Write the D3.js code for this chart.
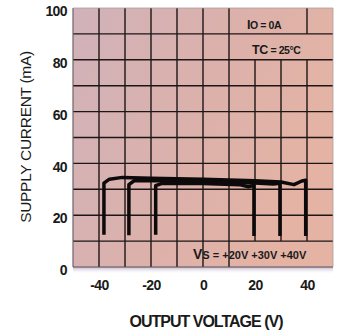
<!DOCTYPE html>
<html>
<head>
<meta charset="utf-8">
<script src="https://cdn.jsdelivr.net/npm/d3@7"></script>
<style>
  html, body { margin: 0; padding: 0; background: #ffffff; }
  svg { display: block; font-family: "Liberation Sans", Arial, Helvetica, sans-serif; }
</style>
</head>
<body>
<svg id="chart" width="338" height="332"></svg>
<script>
// Supply current vs. output voltage, IO = 0A, TC = 25°C
const xTicks = [-40, -20, 0, 20, 40];
const yTicks = [0, 20, 40, 60, 80, 100];
const xGrid = [-40, -30, -20, -10, 0, 10, 20, 30, 40];
const yGrid = [10, 20, 30, 40, 50, 60, 70, 80, 90];

// Supply-voltage curves: output voltage (V) and supply current (mA)
const vs40V = [-38.1, -38.1, -36, -31, -20, 0, 20, 30, 35, 38, 39.5, 39.5];
const vs40I = [12.5, 32.4, 33.9, 34.6, 34.3, 33.9, 33.3, 32.8, 31.8, 33.2, 33.5, 12.0];
const vs30V = [-28.5, -28.5, -26.5, -20, 0, 20, 27, 29.6, 29.6];
const vs30I = [12.3, 31.8, 33.3, 33.4, 33.0, 32.4, 32.0, 32.3, 12.0];
const vs20V = [-18.2, -18.2, -16, -10, 0, 14, 17.5, 19.6, 19.6];
const vs20I = [12.5, 31.4, 32.2, 32.3, 32.2, 31.8, 31.0, 31.5, 12.0];

const svg = d3.select("#chart");
const x = d3.scaleLinear().domain([-50, 50]).range([73, 333]);
const y = d3.scaleLinear().domain([0, 100]).range([267, 8]);

const defs = svg.append("defs");
const bg = defs.append("linearGradient").attr("id", "bg")
  .attr("x1", "0%").attr("y1", "0%").attr("x2", "100%").attr("y2", "40%");
bg.append("stop").attr("offset", "0%").attr("stop-color", "#d0b2ba");
bg.append("stop").attr("offset", "55%").attr("stop-color", "#dcb1ab");
bg.append("stop").attr("offset", "100%").attr("stop-color", "#e4b3a4");
const sh = defs.append("linearGradient").attr("id", "shadow")
  .attr("x1", "0").attr("y1", "0").attr("x2", "0").attr("y2", "1");
sh.append("stop").attr("offset", "0%").attr("stop-color", "#b9a9c0").attr("stop-opacity", 0.9);
sh.append("stop").attr("offset", "100%").attr("stop-color", "#ffffff").attr("stop-opacity", 0);

const [x0, x1] = x.range();
const [yb, yt] = y.range();

// plot background and drop shadow under it
svg.append("rect").attr("x", x0).attr("y", yb).attr("width", x1 - x0).attr("height", 7)
  .attr("fill", "url(#shadow)");
svg.append("rect").attr("x", x0).attr("y", yt).attr("width", x1 - x0).attr("height", yb - yt)
  .attr("fill", "url(#bg)");

// grid: vertical lines leave room for the annotation labels
function vSegments(v) {
  if (v === 20 || v === 30) return [[10, 80]];
  if (v === 40) return [[10, 80], [90, 100]];
  return [[0, 100]];
}
const grid = svg.append("g").attr("stroke", "#1c1616").attr("stroke-width", 1.4);
xGrid.forEach(v => {
  vSegments(v).forEach(([a, b]) => {
    grid.append("line").attr("x1", x(v)).attr("x2", x(v)).attr("y1", y(a)).attr("y2", y(b));
  });
});
yGrid.forEach(v => {
  grid.append("line").attr("x1", x0).attr("x2", x1).attr("y1", y(v)).attr("y2", y(v));
});

// frame
svg.append("line").attr("x1", x0).attr("x2", x0).attr("y1", yt).attr("y2", yb)
  .attr("stroke", "#6e6468").attr("stroke-width", 1.2);
svg.append("line").attr("x1", x0).attr("x2", x1).attr("y1", yb).attr("y2", yb)
  .attr("stroke", "#5a5058").attr("stroke-width", 1.2);
svg.append("line").attr("x1", x0).attr("x2", x1).attr("y1", yt).attr("y2", yt)
  .attr("stroke", "#a89ca0").attr("stroke-width", 0.8);
svg.append("line").attr("x1", x1).attr("x2", x1).attr("y1", yt).attr("y2", yb)
  .attr("stroke", "#b09c98").attr("stroke-width", 0.8);

// curves
const line = d3.line().x(d => x(d[0])).y(d => y(d[1]));
[[vs40V, vs40I], [vs30V, vs30I], [vs20V, vs20I]].forEach(([vv, ii]) => {
  const pts = vv.map((v, i) => [v, ii[i]]);
  svg.append("path").attr("d", line(pts))
    .attr("fill", "none").attr("stroke", "#0c0a0a").attr("stroke-width", 3.5)
    .attr("stroke-linejoin", "round").attr("stroke-linecap", "butt");
});

// axes
const yAxis = svg.append("g").attr("transform", `translate(${x0 - 6},0)`)
  .call(d3.axisLeft(y).tickValues(yTicks).tickSize(0).tickPadding(0));
yAxis.select(".domain").remove();
yAxis.selectAll("text").attr("dy", "0.55em").attr("y", 0)
  .attr("font-size", 14).attr("font-weight", "bold").attr("fill", "#1a1a1a")
  .attr("font-family", "'Liberation Sans', Arial, sans-serif").attr("letter-spacing", -0.6);

const xAxis = svg.append("g").attr("transform", `translate(0,${yb})`)
  .call(d3.axisBottom(x).tickValues(xTicks).tickSize(0).tickPadding(0).tickFormat(d3.format("d")));
xAxis.select(".domain").remove();
xAxis.selectAll("text").attr("y", 23).attr("dy", 0)
  .attr("font-size", 14).attr("font-weight", "bold").attr("fill", "#1a1a1a")
  .attr("font-family", "'Liberation Sans', Arial, sans-serif").attr("letter-spacing", -0.6)
  .text(d => d < 0 ? "-" + Math.abs(d) : d);

// axis titles
svg.append("text").attr("x", 206).attr("y", 327).attr("text-anchor", "middle")
  .attr("font-size", 16).attr("font-weight", "bold").attr("letter-spacing", -1).attr("fill", "#1a1a1a")
  .text("OUTPUT VOLTAGE (V)");
svg.append("text").attr("transform", "translate(31,137) rotate(-90)").attr("text-anchor", "middle")
  .attr("font-size", 15.5).attr("letter-spacing", -0.3).attr("fill", "#1a1a1a")
  .text("SUPPLY CURRENT (mA)");

// annotations
function label(px, py, big, small, bigSize, smallSize, spacing) {
  const t = svg.append("text").attr("x", px).attr("y", py).attr("fill", "#1a1a1a")
    .attr("font-weight", "bold").attr("letter-spacing", spacing);
  t.append("tspan").attr("font-size", bigSize).text(big);
  t.append("tspan").attr("font-size", smallSize).text(small);
}
label(247, 29, "I", "O = 0A", 12.5, 10.5, -0.4);
label(252, 54, "TC", " = 25°C", 12.5, 10.5, -0.4);
label(193, 259, "V", "S = +20V +30V +40V", 14, 11, 0);
</script>
</body>
</html>
